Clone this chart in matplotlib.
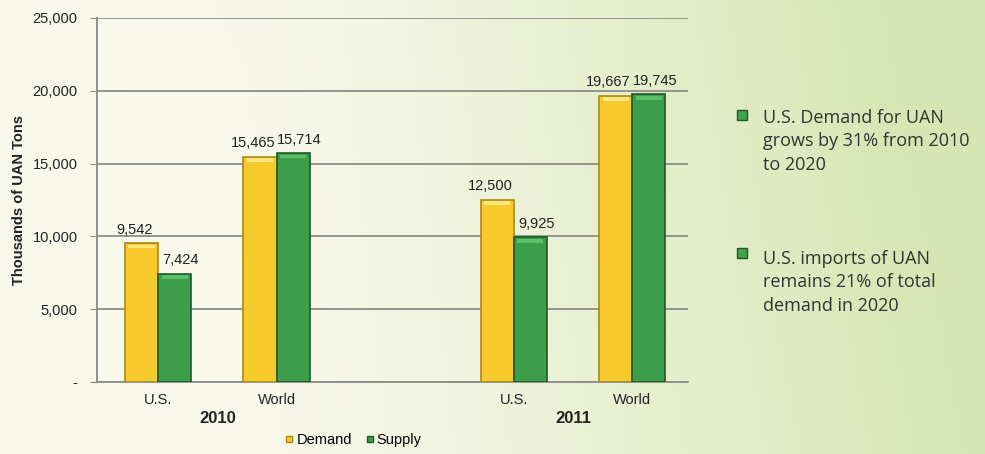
import numpy as np
import matplotlib.pyplot as plt
from matplotlib.patches import Rectangle

plt.rcParams['font.family'] = ['Liberation Sans', 'DejaVu Sans']

# Данные графика
categories = ["U.S.", "World", "", "U.S.", "World"]
years = ["2010", "2011"]
demand = [9542, 15465, None, 12500, 19667]
supply = [7424, 15714, None, 9925, 19745]
y_ticks = [0, 5000, 10000, 15000, 20000, 25000]
y_tick_labels = ["-", "5,000", "10,000", "15,000", "20,000", "25,000"]
notes = [
    "U.S. Demand for UAN\ngrows by 31% from 2010\nto 2020",
    "U.S. imports of UAN\nremains 21% of total\ndemand in 2020",
]

yellow = "#f6c92c"
yellow_edge = "#a88a12"
green = "#3c9e4a"
green_edge = "#1d5a27"

fig = plt.figure(figsize=(9.85, 4.54), dpi=100)

# Фон: светлый градиент от кремового к зеленому
bg = fig.add_axes([0, 0, 1, 1], zorder=0)
gx = np.linspace(0, 1, 300)
gy = np.linspace(0, 1, 150)
X, Y = np.meshgrid(gx, gy)
left_col = np.array([0.975, 0.975, 0.925])
right_col = np.array([0.84, 0.90, 0.70])
t = np.clip((X - 0.25) / 0.75, 0, 1) ** 1.2
t = np.clip(t + 0.15 * Y * X, 0, 1)
img = left_col[None, None, :] * (1 - t[..., None]) + right_col[None, None, :] * t[..., None]
bg.imshow(img, aspect="auto", extent=[0, 1, 0, 1], origin="lower")
bg.axis("off")

ax = fig.add_axes([0.0985, 0.1586, 0.6, 0.8018], zorder=1)
ax.patch.set_alpha(0)

x = np.arange(len(categories))
w = 0.28
for i in range(len(categories)):
    if demand[i] is None:
        continue
    ax.bar(x[i] - w / 2, demand[i], w, color=yellow, edgecolor=yellow_edge, linewidth=1.2, zorder=3)
    ax.bar(x[i] + w / 2, supply[i], w, color=green, edgecolor=green_edge, linewidth=1.2, zorder=3)
    # светлая полоска сверху для объема
    ax.add_patch(Rectangle((x[i] - w + 0.03, demand[i] - 350), w - 0.06, 250,
                           color="#ffe680", zorder=4, lw=0))
    ax.add_patch(Rectangle((x[i] + 0.03, supply[i] - 350), w - 0.06, 250,
                           color="#5cc06a", zorder=4, lw=0))
    ax.text(x[i] - w / 2 - 0.06, demand[i] + 450, f"{demand[i]:,}", ha="center", va="bottom",
            fontsize=10.5, color="#222222")
    ax.text(x[i] + w / 2 + 0.05, supply[i] + 450, f"{supply[i]:,}", ha="center", va="bottom",
            fontsize=10.5, color="#222222")

ax.set_xlim(-0.515, 4.47)
ax.set_ylim(0, 25000)
ax.set_yticks(y_ticks)
ax.set_yticklabels(y_tick_labels, fontsize=10.5, color="#222222")
ax.set_xticks(x)
ax.set_xticklabels(categories, fontsize=10.5, color="#222222")
ax.tick_params(axis="x", length=0, pad=8)
ax.tick_params(axis="y", length=5, color="#888888", pad=9)
ax.yaxis.grid(True, color="#8c8c8c", linewidth=1.3, zorder=1)
ax.set_axisbelow(True)
for s in ["top", "right"]:
    ax.spines[s].set_visible(False)
ax.spines["left"].set_color("#888888")
ax.spines["left"].set_linewidth(1.3)
ax.spines["bottom"].set_color("#8c8c8c")
ax.spines["bottom"].set_linewidth(1.3)
ax.set_ylabel("Thousands of UAN Tons", fontsize=10.5, fontweight="bold", color="#222222", labelpad=5)

# подписи годов под группами
ax.text(0.5, -0.08, years[0], transform=ax.get_xaxis_transform(), ha="center", va="top",
        fontsize=12, fontweight="bold", color="#222222")
ax.text(3.5, -0.08, years[1], transform=ax.get_xaxis_transform(), ha="center", va="top",
        fontsize=12, fontweight="bold", color="#222222")

# легенда
h1 = plt.Line2D([], [], marker="s", linestyle="", color=yellow, markeredgecolor=yellow_edge, markersize=5)
h2 = plt.Line2D([], [], marker="s", linestyle="", color=green, markeredgecolor=green_edge, markersize=5)
fig.legend([h1, h2], ["Demand", "Supply"], loc="center", bbox_to_anchor=(0.358, 0.031),
           ncol=2, frameon=False, fontsize=10.5, handletextpad=0.1, columnspacing=0.8,
           handlelength=0.8)

# текст справа
for k, note in enumerate(notes):
    yb = 1 - (115 + k * 138) / 454
    fig.add_artist(Rectangle((737 / 985, yb - 5 / 454), 10 / 985, 10 / 454,
                             transform=fig.transFigure, facecolor="#3fa24c",
                             edgecolor="#1d5a27", linewidth=1))
    yt = 1 - (109 + k * 141) / 454
    fig.text(763 / 985, yt, note, fontsize=13, color="#333333", va="top", ha="left",
             family="Open Sans", linespacing=1.38)

fig.savefig("out.png", dpi=100)
